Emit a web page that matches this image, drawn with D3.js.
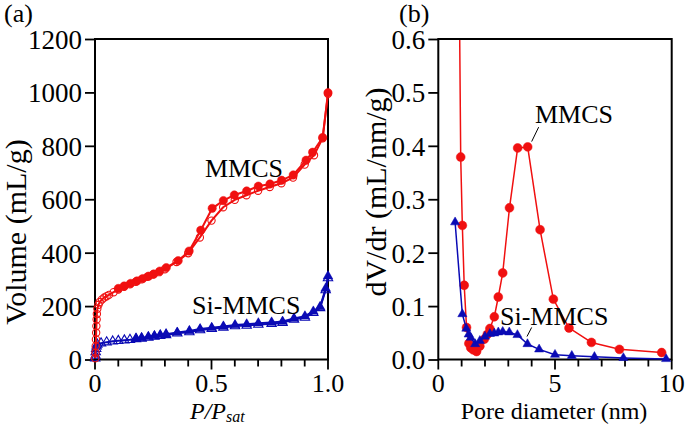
<!DOCTYPE html>
<html><head><meta charset="utf-8">
<script src="https://cdn.jsdelivr.net/npm/d3@7"></script>
<style>html,body{margin:0;padding:0;background:#fff}svg{display:block}</style>
</head><body>
<svg id="c" width="685" height="426"></svg>
<script>
// ---- Panel (a) data: N2 isotherms ----
const mmcsAdsP = [0.001,0.002,0.003,0.004,0.005,0.006,0.007,0.008,0.01,0.015,0.02,0.03,0.04,0.05,0.06,0.08,0.1,0.125,0.15,0.175,0.2,0.225,0.25,0.275,0.3,0.35,0.4,0.45,0.5,0.55,0.6,0.65,0.7,0.75,0.8,0.85,0.9,0.94,0.977,1.0];
const mmcsAdsV = [5,25,50,75,100,125,150,170,190,205,215,225,232,237,242,252,262,272,282,291,300,310,318,327,338,365,398,457,520,570,598,615,632,646,660,681,730,765,828,995];
const mmcsDesP = [1.0,0.977,0.934,0.906,0.851,0.801,0.751,0.701,0.651,0.598,0.551,0.503,0.454,0.404,0.357,0.306,0.278,0.252,0.23,0.205,0.18,0.153,0.125,0.1];
const mmcsDesV = [999,831,776,746,691,671,657,649,631,616,595,566,484,406,370,344,331,320,312,303,294,285,275,266];
const siAdsP = [0.001,0.002,0.003,0.005,0.007,0.01,0.026,0.05,0.076,0.1,0.126,0.15,0.176,0.2,0.229,0.255,0.28,0.305,0.353,0.405,0.451,0.501,0.551,0.601,0.651,0.701,0.758,0.805,0.854,0.901,0.937,0.966,0.99,1.0];
const siAdsV = [5,15,28,40,50,56,61,65,68,70,72,74,77,79,82,86,89,92,98,103,110,115,120,125,127,131,134,138,150,157,175,193,260,305];
const siDesP = [1.0,0.99,0.966,0.937,0.901,0.854,0.805,0.758,0.701,0.651,0.601,0.551,0.501,0.451,0.405,0.353,0.305,0.28,0.255,0.229,0.2,0.176];
const siDesV = [312,266,197,180,162,154,142,139,136,132,129,124,119,114,107,101,95,92,88,85,81,79];

// ---- Panel (b) data: pore size distributions ----
const mmcsPoreD = [0.85,0.96,1.03,1.11,1.21,1.31,1.39,1.50,1.64,1.78,1.97,2.10,2.21,2.40,2.57,2.76,3.05,3.40,3.83,4.36,4.93,5.60,6.56,7.76,9.57];
const mmcsDV = [0.95,0.379,0.251,0.139,0.060,0.030,0.022,0.018,0.015,0.025,0.038,0.047,0.058,0.080,0.117,0.162,0.284,0.396,0.398,0.243,0.113,0.059,0.032,0.019,0.013];
const siPoreD = [0.72,1.03,1.20,1.30,1.39,1.58,1.78,2.0,2.21,2.40,2.57,2.76,3.04,3.39,3.82,4.32,5.0,5.72,6.69,7.93,9.76];
const siDV = [0.257,0.085,0.058,0.047,0.041,0.029,0.035,0.043,0.048,0.049,0.051,0.052,0.051,0.046,0.029,0.019,0.009,0.007,0.005,0.003,0.001];

// tick labels
const aXTicks = [0,0.5,1.0], aXTickLabels = ["0","0.5","1.0"];
const aYTicks = [0,200,400,600,800,1000,1200];
const bXTicks = [0,5,10], bXTickLabels = ["0","5","10"];
const bYTicks = [0,0.1,0.2,0.3,0.4,0.5,0.6];

const RED = "#f01010", BLUE = "#0a0ab4";
const FONT = "'Liberation Serif','Times New Roman',serif";
const svg = d3.select("#c");
const zip = (a,b)=>a.map((v,i)=>[v,b[i]]);

function panel(opt){
  const g = svg.append("g");
  const x = d3.scaleLinear().domain(opt.xd).range([opt.x0,opt.x1]);
  const y = d3.scaleLinear().domain(opt.yd).range([opt.yb,opt.yt]);
  // minor x ticks
  const xMinor = d3.range(opt.xd[0], opt.xd[1]+opt.xStep/2, opt.xStep);
  g.append("g").selectAll("line").data(xMinor).join("line")
    .attr("x1",d=>x(d)).attr("x2",d=>x(d)).attr("y1",opt.yb)
    .attr("y2",d=> opt.xMajor.some(m=>Math.abs(m-d)<1e-6) ? opt.yb+10 : opt.yb+7)
    .attr("stroke","#000").attr("stroke-width",1.8);
  g.append("g").selectAll("text").data(opt.xMajor).join("text")
    .attr("x",d=>x(d)).attr("y",opt.yb+32).attr("text-anchor","middle")
    .attr("font-family",FONT).attr("font-size",26).text((d,i)=>opt.xLabels[i]);
  // y ticks
  const yAxis = d3.axisLeft(y).tickValues(opt.yTicks).tickSize(10).tickPadding(3).tickFormat(opt.yFmt);
  const ya = g.append("g").attr("transform",`translate(${opt.x0},0)`).call(yAxis);
  ya.select(".domain").remove();
  ya.selectAll("line").attr("stroke-width",1.8);
  ya.selectAll("text").attr("font-family",FONT).attr("font-size",27).attr("fill","#000").attr("dy","0.35em");
  // frame
  g.append("rect").attr("x",opt.x0).attr("y",opt.yt).attr("width",opt.x1-opt.x0).attr("height",opt.yb-opt.yt)
    .attr("fill","none").attr("stroke","#000").attr("stroke-width",2);
  const clipId = "clip"+opt.id;
  svg.append("clipPath").attr("id",clipId).append("rect")
    .attr("x",opt.x0-6).attr("y",opt.yt+1).attr("width",opt.x1-opt.x0+12).attr("height",opt.yb-opt.yt+6);
  const plot = g.append("g").attr("clip-path",`url(#${clipId})`);
  return {g,x,y,plot};
}

function series(p, pts, color, lw, marker, filled, size){
  const line = d3.line().x(d=>p.x(d[0])).y(d=>p.y(d[1]));
  p.plot.append("path").datum(pts).attr("d",line).attr("fill","none")
    .attr("stroke",color).attr("stroke-width",lw).attr("stroke-linejoin","round");
  const sym = d3.symbol().type(marker==="circle"?d3.symbolCircle:d3.symbolTriangle).size(size);
  p.plot.append("g").selectAll("path").data(pts).join("path")
    .attr("transform",d=>`translate(${p.x(d[0])},${p.y(d[1])})`)
    .attr("d",sym())
    .attr("fill",filled?color:"none").attr("stroke",color).attr("stroke-width",filled?0.5:1.1);
}

// ---------- Panel (a) ----------
const pa = panel({id:"a",xd:[0,1],yd:[0,1200],x0:95,x1:328,yt:39,yb:359.5,xStep:0.1,
  xMajor:aXTicks,xLabels:aXTickLabels,yTicks:aYTicks,yFmt:d3.format("d")});
series(pa, zip(siAdsP,siAdsV), BLUE, 2, "tri", false, 38);
series(pa, zip(siDesP,siDesV), BLUE, 2, "tri", true, 40);
series(pa, zip(mmcsAdsP,mmcsAdsV), RED, 2, "circle", false, 42);
series(pa, zip(mmcsDesP,mmcsDesV), RED, 2, "circle", true, 55);
pa.g.append("text").attr("x",205).attr("y",177).attr("font-family",FONT).attr("font-size",26).text("MMCS");
pa.g.append("text").attr("x",192).attr("y",314).attr("font-family",FONT).attr("font-size",26).text("Si-MMCS");
// axis titles
svg.append("text").attr("transform","translate(26,232) rotate(-90)").attr("text-anchor","middle")
  .attr("font-family",FONT).attr("font-size",30).text("Volume (mL/g)");
const xt = svg.append("text").attr("x",190).attr("y",419).attr("font-family",FONT).attr("font-size",24).attr("font-style","italic");
xt.append("tspan").text("P/P");
xt.append("tspan").attr("dy",3).attr("font-size",16).text("sat");
svg.append("text").attr("x",4).attr("y",22).attr("font-family",FONT).attr("font-size",26).text("(a)");

// ---------- Panel (b) ----------
const pb = panel({id:"b",xd:[0,10],yd:[0,0.6],x0:438.3,x1:671.7,yt:39,yb:359.5,xStep:1,
  xMajor:bXTicks,xLabels:bXTickLabels,yTicks:bYTicks,yFmt:d3.format(".1f")});
series(pb, zip(mmcsPoreD,mmcsDV), RED, 1.5, "circle", true, 62);
series(pb, zip(siPoreD,siDV), BLUE, 1.5, "tri", true, 36);
pb.g.append("text").attr("x",535).attr("y",123).attr("font-family",FONT).attr("font-size",26).text("MMCS");
pb.g.append("line").attr("x1",pb.x(4.0)).attr("y1",pb.y(0.408)).attr("x2",pb.x(4.3)).attr("y2",pb.y(0.435))
  .attr("stroke","#000").attr("stroke-width",1);
pb.g.append("text").attr("x",500).attr("y",325).attr("font-family",FONT).attr("font-size",26).text("Si-MMCS");
pb.g.append("line").attr("x1",pb.x(3.8)).attr("y1",pb.y(0.043)).attr("x2",pb.x(4.0)).attr("y2",pb.y(0.06))
  .attr("stroke","#000").attr("stroke-width",1);
svg.append("text").attr("transform","translate(386,192) rotate(-90)").attr("text-anchor","middle")
  .attr("font-family",FONT).attr("font-size",30).text("dV/dr (mL/nm/g)");
svg.append("text").attr("x",554).attr("y",419).attr("text-anchor","middle").attr("font-family",FONT).attr("font-size",24).text("Pore diameter (nm)");
svg.append("text").attr("x",399).attr("y",22).attr("font-family",FONT).attr("font-size",26).text("(b)");
</script>
</body></html>
